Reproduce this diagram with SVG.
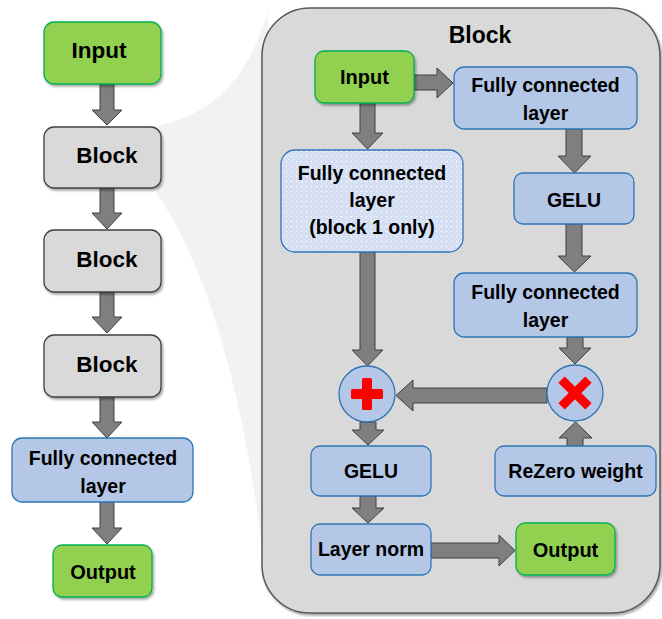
<svg xmlns="http://www.w3.org/2000/svg" width="662" height="619" viewBox="0 0 662 619">
<defs>
<filter id="sh" x="-10%" y="-10%" width="130%" height="130%">
<feDropShadow dx="1.5" dy="2" stdDeviation="1.2" flood-color="#000" flood-opacity="0.35"/>
</filter>
<pattern id="dots" width="5" height="5" patternUnits="userSpaceOnUse">
<rect width="5" height="5" fill="#d3def2"/>
<circle cx="1.5" cy="1.5" r="0.8" fill="#ffffff"/>
<circle cx="4" cy="4" r="0.6" fill="#eef3fb"/>
</pattern>
<style>
text{font-family:"Liberation Sans",Arial,sans-serif;font-weight:bold;fill:#000;text-anchor:middle}
.green{fill:#92d050;stroke:#00b050;stroke-width:1.3}
.gray{fill:#d9d9d9;stroke:#404040;stroke-width:1.3}
.blue{fill:#b4c7e7;stroke:#2e75b6;stroke-width:1.3}
.dot{fill:url(#dots);stroke:#2e75b6;stroke-width:1.3}
.arr{fill:#7f7f7f;stroke:#404040;stroke-width:1}
.big{font-size:22.5px}
.med{font-size:19.5px}
.red{fill:#ff0000}
</style>
</defs>
<rect width="662" height="619" fill="#ffffff"/>
<path d="M158,126 C205,116 248,85 268,10 L268,600 C250,420 215,280 156,192 Z" fill="#f2f2f2"/>
<g id="block-detail">
<rect x="262" y="8" width="398" height="605" rx="48" fill="#d9d9d9" stroke="#595959" stroke-width="1.5" filter="url(#sh)"/>
<text x="480" y="43" style="font-size:23px">Block</text>
</g>
<g id="connectors">
<polygon class="arr" points="100,84 114,84 114,110 122,110 107,125 92,110 100,110"/>
<polygon class="arr" points="100,188 114,188 114,213 122,213 107,229 92,213 100,213"/>
<polygon class="arr" points="100,292 114,292 114,317 122,317 107,333 92,317 100,317"/>
<polygon class="arr" points="100,397 114,397 114,422 122,422 107,438 92,422 100,422"/>
<polygon class="arr" points="100,502 114,502 114,528 122,528 107,544 92,528 100,528"/>
<polygon class="arr" points="414,75 437,75 437,68 453,83 437,98 437,90 414,90"/>
<polygon class="arr" points="360,103 375,103 375,133 383,133 367.5,149 352,133 360,133"/>
<polygon class="arr" points="566,129 582,129 582,156 591,156 574.5,173 558,156 566,156"/>
<polygon class="arr" points="566,224 582,224 582,256 591,256 574.5,272 558,256 566,256"/>
<polygon class="arr" points="567,337 583,337 583,348 591,348 575,364 559,348 567,348"/>
<polygon class="arr" points="360,252 375,252 375,350 383,350 367.5,366 352,350 360,350"/>
<polygon class="arr" points="547,388 547,403 413,403 413,411 396,395.5 413,380 413,388"/>
<polygon class="arr" points="567,446 583,446 583,438 592,438 575.5,422 559,438 567,438"/>
<polygon class="arr" points="360,422 376,422 376,430 384,430 368,445 352,430 360,430"/>
<polygon class="arr" points="360,496 376,496 376,508 384,508 368,523 352,508 360,508"/>
<polygon class="arr" points="431,543 499,543 499,535 515,550.5 499,566 499,558 431,558"/>
</g>
<g id="left-input"><rect class="green" x="44" y="22" width="117" height="62" rx="10" filter="url(#sh)"/><text class="big" x="99" y="58">Input</text></g>
<g id="left-block1"><rect class="gray" x="44" y="127" width="117" height="61" rx="10" filter="url(#sh)"/><text class="big" x="107" y="163">Block</text></g>
<g id="left-block2"><rect class="gray" x="44" y="230" width="117" height="62" rx="10" filter="url(#sh)"/><text class="big" x="107" y="267">Block</text></g>
<g id="left-block3"><rect class="gray" x="44" y="335" width="117" height="62" rx="10" filter="url(#sh)"/><text class="big" x="107" y="372">Block</text></g>
<g id="left-fc"><rect class="blue" x="12" y="438" width="181" height="64" rx="10"/><text class="med" x="103" y="465">Fully connected</text><text class="med" x="103" y="493">layer</text></g>
<g id="left-output"><rect class="green" x="53" y="545" width="99" height="52" rx="9" filter="url(#sh)"/><text x="103" y="579" style="font-size:20px">Output</text></g>
<g id="in-input"><rect class="green" x="315" y="51" width="99" height="52" rx="9" filter="url(#sh)"/><text x="364.5" y="84" style="font-size:20px">Input</text></g>
<g id="fc-top"><rect class="blue" x="454" y="67" width="183" height="62" rx="10"/><text class="med" x="545.5" y="92">Fully connected</text><text class="med" x="545.5" y="120">layer</text></g>
<g id="fc-block1"><rect class="dot" x="281" y="150" width="182" height="102" rx="14"/><text class="med" x="372" y="180">Fully connected</text><text class="med" x="372" y="207">layer</text><text class="med" x="372" y="234">(block 1 only)</text></g>
<g id="gelu-right"><rect class="blue" x="514" y="173" width="120" height="51" rx="9"/><text class="med" x="574" y="207">GELU</text></g>
<g id="fc-second"><rect class="blue" x="454" y="273" width="183" height="64" rx="10"/><text class="med" x="545.5" y="299">Fully connected</text><text class="med" x="545.5" y="327">layer</text></g>
<g id="add"><circle class="blue" cx="367" cy="394" r="28"/><rect class="red" x="351" y="389" width="32" height="10" rx="1.5"/><rect class="red" x="362" y="378" width="10" height="32" rx="1.5"/></g>
<g id="mul"><circle class="blue" cx="575" cy="393" r="28"/><g transform="translate(575 393) rotate(45)"><rect class="red" x="-19" y="-4.5" width="38" height="9"/><rect class="red" x="-4.5" y="-19" width="9" height="38"/></g></g>
<g id="gelu-left"><rect class="blue" x="311" y="446" width="120" height="50" rx="9"/><text class="med" x="371" y="478">GELU</text></g>
<g id="rezero"><rect class="blue" x="495" y="446" width="161" height="50" rx="9"/><text class="med" x="575.5" y="478">ReZero weight</text></g>
<g id="layer-norm"><rect class="blue" x="311" y="524" width="120" height="51" rx="9"/><text class="med" x="371" y="556">Layer norm</text></g>
<g id="in-output"><rect class="green" x="516" y="523" width="99" height="52" rx="9" filter="url(#sh)"/><text x="565.5" y="557" style="font-size:20px">Output</text></g>
</svg>
